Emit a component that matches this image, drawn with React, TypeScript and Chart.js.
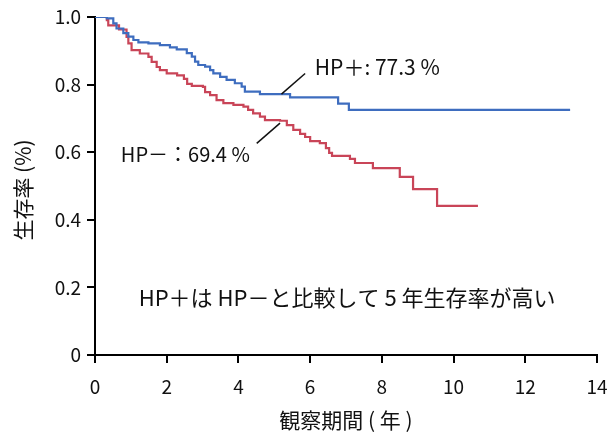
import React, { useEffect, useRef } from "react";
import { Chart, registerables } from "chart.js";

Chart.register(...registerables);

// HP+ (blue) Kaplan-Meier steps: time (years) and survival
const hpPlusTimes = [0, 0.33, 0.51, 0.6, 0.79, 0.93, 1.07, 1.21, 1.49, 1.81, 2.09, 2.28, 2.56, 2.7, 2.79, 2.88, 3.07, 3.21, 3.3, 3.49, 3.67, 3.9, 4.09, 4.18, 4.6, 5.44, 6.78, 7.08, 13.25];
const hpPlusSurv = [1.0, 0.996, 0.981, 0.966, 0.952, 0.942, 0.932, 0.925, 0.922, 0.917, 0.91, 0.904, 0.893, 0.883, 0.868, 0.858, 0.853, 0.843, 0.833, 0.823, 0.814, 0.804, 0.794, 0.779, 0.772, 0.762, 0.744, 0.725, 0.725];

// HP- (red)
const hpMinusTimes = [0, 0.33, 0.37, 0.67, 0.88, 0.93, 1.02, 1.25, 1.49, 1.58, 1.72, 1.81, 2.0, 2.29, 2.48, 2.57, 2.7, 3.01, 3.07, 3.21, 3.39, 3.58, 3.86, 4.14, 4.27, 4.41, 4.6, 4.74, 5.16, 5.35, 5.53, 5.72, 5.86, 6.0, 6.27, 6.44, 6.53, 6.61, 7.11, 7.25, 7.75, 8.5, 8.87, 9.54, 10.68];
const hpMinusSurv = [1.0, 0.991, 0.975, 0.963, 0.941, 0.922, 0.902, 0.892, 0.882, 0.867, 0.852, 0.843, 0.833, 0.827, 0.817, 0.802, 0.796, 0.793, 0.778, 0.769, 0.754, 0.745, 0.74, 0.735, 0.725, 0.715, 0.705, 0.695, 0.693, 0.68, 0.666, 0.654, 0.645, 0.633, 0.627, 0.612, 0.598, 0.589, 0.58, 0.568, 0.553, 0.527, 0.491, 0.441, 0.441];

const xTicks = [0, 2, 4, 6, 8, 10, 12, 14];
const yTicks = [0, 0.2, 0.4, 0.6, 0.8, 1.0];

const xTitle = "観察期間 ( 年 )";
const yTitle = "生存率 (%)";

// annotation texts (anchored in data coordinates)
const plusLabel = "HP＋: 77.3 %";
const plusLabelAt = [6.13, 0.852];
const plusLeader = [5.2, 0.772, 5.86, 0.833];
const minusLabel = "HP－：69.4 %";
const minusLabelAt = [0.72, 0.592];
const minusLeader = [4.51, 0.626, 5.16, 0.686];
const noteText = "HP＋は HP－と比較して 5 年生存率が高い";
const noteAt = [7.03, 0.169];

const FONT = "'Noto Sans CJK JP', 'Noto Sans', sans-serif";
const BLUE = "#3E6DBF";
const RED = "#C94558";

export default function App() {
  const ref = useRef<HTMLCanvasElement | null>(null);

  useEffect(() => {
    if (!ref.current) return;
    const toPts = (t: number[], s: number[]) => t.map((x, i) => ({ x, y: s[i] }));

    const textPlugin = {
      id: "texts",
      afterDraw(chart: any) {
        const { ctx, chartArea } = chart;
        const xs = chart.scales.x;
        const ys = chart.scales.y;
        const px = (v: number) => xs.getPixelForValue(v);
        const py = (v: number) => ys.getPixelForValue(v);
        ctx.save();
        ctx.fillStyle = "#111";
        ctx.strokeStyle = "#111";
        ctx.lineWidth = 1.5;
        for (const l of [plusLeader, minusLeader]) {
          ctx.beginPath();
          ctx.moveTo(px(l[0]), py(l[1]));
          ctx.lineTo(px(l[2]), py(l[3]));
          ctx.stroke();
        }
        ctx.textBaseline = "middle";
        ctx.textAlign = "left";
        ctx.font = `21px ${FONT}`;
        ctx.fillText(plusLabel, px(plusLabelAt[0]), py(plusLabelAt[1]));
        ctx.font = `20px ${FONT}`;
        ctx.fillText(minusLabel, px(minusLabelAt[0]), py(minusLabelAt[1]));
        ctx.textAlign = "center";
        ctx.font = `22px ${FONT}`;
        ctx.fillText(noteText, px(noteAt[0]), py(noteAt[1]));
        // axis titles
        ctx.font = `21px ${FONT}`;
        ctx.fillText(xTitle, (chartArea.left + chartArea.right) / 2, chartArea.bottom + 65);
        ctx.translate(chartArea.left - 72, (chartArea.top + chartArea.bottom) / 2 + 4);
        ctx.rotate(-Math.PI / 2);
        ctx.fillText(yTitle, 0, 0);
        ctx.restore();
      },
    };

    const chart = new Chart(ref.current, {
      type: "line",
      data: {
        datasets: [
          {
            label: "HP+",
            data: toPts(hpPlusTimes, hpPlusSurv),
            borderColor: BLUE,
            borderWidth: 2.2,
            pointRadius: 0,
            stepped: "before",
            fill: false,
          },
          {
            label: "HP-",
            data: toPts(hpMinusTimes, hpMinusSurv),
            borderColor: RED,
            borderWidth: 2.2,
            pointRadius: 0,
            stepped: "before",
            fill: false,
          },
        ],
      },
      options: {
        animation: false,
        responsive: true,
        maintainAspectRatio: false,
        layout: { padding: { top: 17, right: 12, left: 0, bottom: 0 } },
        plugins: { legend: { display: false }, tooltip: { enabled: false }, title: { display: false } },
        scales: {
          x: {
            type: "linear",
            min: 0,
            max: 14,
            afterBuildTicks: (s: any) => { s.ticks = xTicks.map((v) => ({ value: v })); },
            afterFit: (s: any) => { s.height = 82; s.paddingLeft = 0; s.paddingRight = 0; },
            ticks: { color: "#111", font: { family: FONT, size: 19 }, padding: 12, maxRotation: 0, autoSkip: false },
            grid: { drawOnChartArea: false, drawTicks: true, tickLength: 8, color: "#000", lineWidth: 2 },
            border: { display: true, color: "#000", width: 2 },
          },
          y: {
            type: "linear",
            min: 0,
            max: 1,
            afterBuildTicks: (s: any) => { s.ticks = yTicks.map((v) => ({ value: v })); },
            afterFit: (s: any) => { s.width = 95; s.paddingTop = 0; s.paddingBottom = 0; },
            ticks: {
              color: "#111",
              font: { family: FONT, size: 19 },
              padding: 6,
              autoSkip: false,
              callback: (v: any) => (v === 0 ? "0" : Number(v).toFixed(1)),
            },
            grid: { drawOnChartArea: false, drawTicks: true, tickLength: 8, color: "#000", lineWidth: 2 },
            border: { display: true, color: "#000", width: 2 },
          },
        },
      },
      plugins: [textPlugin],
    });
    return () => chart.destroy();
  }, []);

  return (
    <div style={{ position: "fixed", left: 0, top: 0, width: 609, height: 437, background: "#fff" }}>
      <canvas ref={ref} />
    </div>
  );
}
